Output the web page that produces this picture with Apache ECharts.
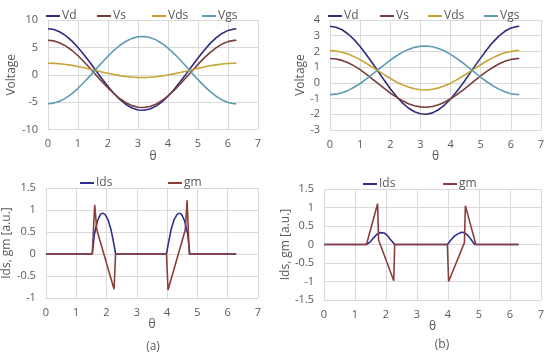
<!DOCTYPE html>
<html>
<head>
<meta charset="utf-8">
<script src="https://cdn.jsdelivr.net/npm/echarts@6/dist/echarts.min.js"></script>
<style>html,body{margin:0;padding:0;background:#fff}#c{width:550px;height:355px}</style>
</head>
<body>
<div id="c"></div>
<script>
// ---- data ----
const theta = [0,0.2,0.4,0.6,0.8,1.0,1.2,1.4,1.6,1.8,2.0,2.2,2.4,2.6,2.8,3.0,3.2,3.4,3.6,3.8,4.0,4.2,4.4,4.6,4.8,5.0,5.2,5.4,5.6,5.8,6.0,6.2,6.28];

const vdA  = [8.40,8.25,7.81,7.10,6.14,4.98,3.65,2.22,0.73,-0.74,-2.15,-3.43,-4.54,-5.43,-6.07,-6.43,-6.49,-6.25,-5.73,-4.94,-3.92,-2.70,-1.34,0.11,1.60,3.06,4.44,5.68,6.73,7.55,8.10,8.37,8.40];
const vsA  = [6.30,6.18,5.81,5.23,4.43,3.47,2.38,1.20,-0.03,-1.25,-2.41,-3.47,-4.39,-5.12,-5.64,-5.94,-5.99,-5.80,-5.37,-4.71,-3.87,-2.87,-1.74,-0.54,0.69,1.89,3.03,4.05,4.92,5.60,6.05,6.28,6.30];
const vdsA = [2.10,2.07,2.00,1.87,1.71,1.50,1.27,1.02,0.76,0.50,0.26,0.03,-0.16,-0.31,-0.42,-0.49,-0.50,-0.46,-0.37,-0.23,-0.05,0.16,0.40,0.65,0.91,1.17,1.41,1.63,1.81,1.95,2.05,2.10,2.10];
const vgsA = [-5.30,-5.18,-4.81,-4.23,-3.43,-2.47,-1.38,-0.20,1.03,2.25,3.41,4.47,5.39,6.12,6.64,6.94,6.99,6.80,6.37,5.71,4.87,3.87,2.74,1.54,0.31,-0.90,-2.03,-3.05,-3.92,-4.60,-5.06,-5.28,-5.30];

const vdB  = [3.60,3.54,3.38,3.11,2.75,2.31,1.81,1.28,0.72,0.16,-0.37,-0.85,-1.27,-1.60,-1.84,-1.97,-2.00,-1.91,-1.71,-1.41,-1.03,-0.57,-0.06,0.49,1.05,1.59,2.11,2.58,2.97,3.28,3.49,3.59,3.60];
const vsB  = [1.55,1.52,1.43,1.28,1.08,0.84,0.56,0.26,-0.05,-0.35,-0.65,-0.91,-1.14,-1.33,-1.46,-1.53,-1.55,-1.50,-1.39,-1.23,-1.01,-0.76,-0.48,-0.17,0.14,0.44,0.73,0.98,1.20,1.37,1.49,1.54,1.55];
const vdsB = [2.05,2.03,1.95,1.83,1.67,1.48,1.25,1.01,0.76,0.52,0.28,0.06,-0.12,-0.27,-0.38,-0.44,-0.45,-0.41,-0.32,-0.19,-0.02,0.19,0.42,0.66,0.91,1.15,1.39,1.59,1.77,1.91,2.00,2.05,2.05];
const vgsB = [-0.75,-0.72,-0.63,-0.48,-0.28,-0.04,0.24,0.54,0.85,1.15,1.45,1.71,1.94,2.13,2.26,2.33,2.35,2.30,2.19,2.03,1.81,1.56,1.28,0.97,0.66,0.36,0.07,-0.18,-0.40,-0.57,-0.69,-0.74,-0.75];

const idsAx = [0,1.53,1.6,1.7,1.8,1.87,1.95,2.05,2.15,2.25,2.3,3.98,4.03,4.13,4.23,4.33,4.41,4.48,4.58,4.68,4.75,6.28];
const idsAy = [0,0,0.45,0.75,0.9,0.93,0.9,0.78,0.55,0.2,0,0,0.2,0.55,0.78,0.9,0.93,0.9,0.75,0.45,0,0];
const gmAx  = [0,1.53,1.61,1.68,2.25,2.3,3.98,4.03,4.6,4.66,4.73,6.28];
const gmAy  = [0,0,1.12,0.55,-0.8,0,0,-0.82,0.55,1.22,0,0];

const idsBx = [0,1.37,1.5,1.6,1.7,1.8,1.85,1.95,2.05,2.15,2.28,3.98,4.1,4.2,4.3,4.4,4.47,4.55,4.65,4.75,4.86,6.28];
const idsBy = [0,0,0.08,0.18,0.27,0.32,0.33,0.31,0.24,0.13,0,0,0.13,0.22,0.28,0.32,0.33,0.31,0.24,0.13,0,0];
const gmBx  = [0,1.37,1.73,1.76,2.25,2.28,3.98,4.02,4.53,4.56,4.9,6.28];
const gmBy  = [0,0,1.1,0.12,-0.98,0,0,-1.0,0.05,1.05,0,0];

const xTicks = {min:0, max:7, interval:1};

// ---- styling ----
const FONT = '"Open Sans", "Noto Sans", sans-serif';
const TXT = '#595959';
const GRID = '#d9d9d9';
const C = {Vd:'#2e2c7e', Vs:'#7a3b3b', Vds:'#c9a232', Vgs:'#5b9cb3', Ids:'#2e2e8c', gm:'#8b3e3a'};

const pair = (xs, ys) => xs.map((x, i) => [x, ys[i]]);

function xAxis(gi){
  return {type:'value', gridIndex:gi, min:xTicks.min, max:xTicks.max, interval:xTicks.interval,
    name:'θ', nameLocation:'middle', nameGap:18,
    nameTextStyle:{color:TXT, fontSize:12, fontFamily:FONT},
    axisLine:{show:false}, axisTick:{show:false},
    axisLabel:{color:TXT, fontSize:11, fontFamily:FONT, margin:9},
    splitLine:{show:true, lineStyle:{color:GRID, width:1}}};
}
function yAxis(gi, min, max, interval, name, gap){
  return {type:'value', gridIndex:gi, min, max, interval,
    name, nameLocation:'middle', nameGap:gap,
    nameTextStyle:{color:TXT, fontSize:12, fontFamily:FONT},
    axisLine:{show:false}, axisTick:{show:false},
    axisLabel:{color:TXT, fontSize:11, fontFamily:FONT, margin:10},
    splitLine:{show:true, lineStyle:{color:GRID, width:1}}};
}
function line(name, gi, data){
  return {name, type:'line', xAxisIndex:gi, yAxisIndex:gi, data, symbol:'none',
    lineStyle:{color:C[name], width:1.6}, itemStyle:{color:C[name]}, animation:false};
}
function leg(name, left, top){
  return {data:[{name, icon:'rect', itemStyle:{color:C[name]}}], left, top, itemWidth:14, itemHeight:2, itemGap:0,
    textStyle:{color:TXT, fontSize:12, fontFamily:FONT, padding:[0,0,0,-3]}};
}

const series = [];
['Vd','Vs','Vds','Vgs'].forEach((n, k) => series.push(line(n, 0, pair(theta, [vdA,vsA,vdsA,vgsA][k]))));
['Vd','Vs','Vds','Vgs'].forEach((n, k) => series.push(line(n, 1, pair(theta, [vdB,vsB,vdsB,vgsB][k]))));
series.push(line('Ids', 2, pair(idsAx, idsAy)));
series.push(line('gm', 2, pair(gmAx, gmAy)));
series.push(line('Ids', 3, pair(idsBx, idsBy)));
series.push(line('gm', 3, pair(gmBx, gmBy)));

const option = {
  backgroundColor:'#fff',
  animation:false,
  grid:[
    {left:48, top:20, width:210, height:109.5},
    {left:330, top:20, width:211, height:110},
    {left:41, top:188, width:217, height:110},
    {left:324, top:189, width:217, height:111}
  ],
  xAxis:[xAxis(0), xAxis(1), xAxis(2), xAxis(3)],
  yAxis:[
    yAxis(0, -10, 10, 5, 'Voltage', 26),
    yAxis(1, -3, 4, 1, 'Voltage', 19),
    yAxis(2, -1, 1.5, 0.5, 'Ids, gm [a.u.]', 22),
    yAxis(3, -1.5, 1.5, 0.5, 'Ids, gm [a.u.]', 23)
  ],
  legend:[
    leg('Vd', 41, 5), leg('Vs', 92, 5), leg('Vds', 147, 5), leg('Vgs', 197, 5),
    leg('Vd', 323, 5), leg('Vs', 375, 5), leg('Vds', 423, 5), leg('Vgs', 479, 5),
    leg('Ids', 75, 172), leg('gm', 163, 172),
    leg('Ids', 358, 173), leg('gm', 438, 173)
  ],
  title:[
    {text:'(a)', left:148, top:336, textAlign:'center', textStyle:{color:TXT, fontSize:12, fontWeight:'normal', fontFamily:FONT}},
    {text:'(b)', left:437, top:334, textAlign:'center', textStyle:{color:TXT, fontSize:12, fontWeight:'normal', fontFamily:FONT}}
  ],
  series
};
const chart = echarts.init(document.getElementById('c'), null, {renderer:'canvas'});
chart.setOption(option);
</script>
</body>
</html>
